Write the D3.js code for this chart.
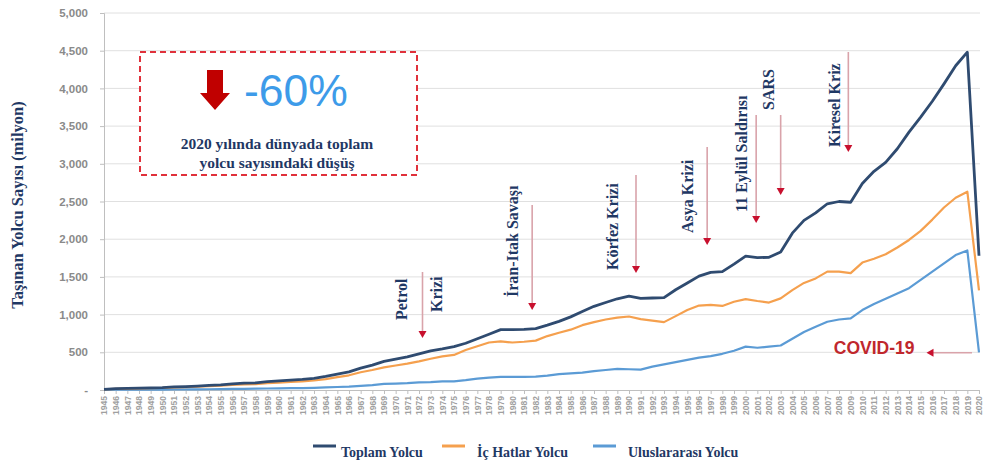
<!DOCTYPE html>
<html>
<head>
<meta charset="utf-8">
<script src="https://cdn.jsdelivr.net/npm/d3@7/dist/d3.min.js"></script>
<style>
  html, body { margin: 0; padding: 0; background: #fff; }
  svg { display: block; }
</style>
</head>
<body>
<svg id="chart" width="983" height="467"></svg>
<script>
// ---------------- DATA ----------------
const years = d3.range(1945, 2021);
const totalPassengers = [
  9, 18, 21, 24, 27, 31, 42, 46, 52, 60,
  68, 80, 90, 95, 110, 120, 130, 140, 155, 180,
  210, 240, 290, 330, 380, 410, 440, 480, 520, 545,
  575, 620, 680, 740, 800, 800, 805, 815, 860, 910,
  970, 1040, 1110, 1160, 1210, 1245, 1215, 1220, 1225, 1330,
  1420, 1510, 1560, 1570, 1670, 1775, 1755, 1760, 1830, 2080,
  2250, 2350, 2470, 2500, 2490, 2740, 2900, 3020, 3200, 3420,
  3620, 3830, 4060, 4300, 4480, 1780
];
const domesticPassengers = [
  7, 15, 18, 20, 23, 27, 35, 39, 44, 50,
  57, 66, 74, 78, 90, 98, 106, 114, 126, 145,
  170, 195, 235, 265, 300, 325, 350, 380, 415, 445,
  465, 530, 580, 630, 645, 630, 640, 655, 715, 760,
  800, 860, 900, 935, 960, 975, 940, 920, 900, 980,
  1060, 1120, 1130, 1115, 1170, 1205, 1180, 1160, 1215, 1325,
  1420, 1480, 1570, 1570, 1550, 1690, 1740, 1800, 1890, 1990,
  2110, 2260, 2420, 2550, 2630, 1320
];
const internationalPassengers = [
  2, 3, 3, 4, 4, 4, 7, 7, 8, 10,
  11, 14, 16, 17, 20, 22, 24, 26, 29, 35,
  40, 45, 55, 65, 80, 85, 90, 100, 105, 115,
  115, 130, 150, 165, 175, 175, 175, 178, 190, 210,
  220, 230, 250, 265, 280, 275, 270, 310, 340, 370,
  400, 430, 450, 480, 520, 575, 560, 575, 590, 680,
  770, 840, 905, 935, 950, 1060, 1140, 1210, 1280, 1350,
  1460, 1570, 1680, 1790, 1850, 500
];
const yTicks = [0, 500, 1000, 1500, 2000, 2500, 3000, 3500, 4000, 4500, 5000];
const seriesNames = ["Toplam Yolcu", "İç Hatlar Yolcu", "Uluslararası Yolcu"];
const yAxisTitle = "Taşınan Yolcu Sayısı (milyon)";
// events: label lines, year of arrow, arrow top value, arrow tip value, text bottom value
const eventLabels = [["Petrol", "Krizi"], ["İran-Itak Savaşı"], ["Körfez Krizi"], ["Asya Krizi"], ["11 Eylül Saldırısı"], ["SARS"], ["Kiresel Kriz"]];
const eventYears = [1972.3, 1981.7, 1990.6, 1996.7, 2000.9, 2003.0, 2008.8];
const eventArrowTop = [1565, 2454, 2851, 3223, 3647, 3647, 4483];
const eventArrowTip = [690, 1061, 1552, 1923, 2215, 2586, 3156];
const eventTextBottom = [[928, 1034], [1233], [1592], [2082], [2361], [3714], [3223]];
const covidLabel = "COVID-19";
const covidArrowFrom = 2019.4, covidArrowTo = 2015.5, covidArrowValue = 495;
const dropLabel = "-60%";
const dropText = ["2020 yılında dünyada toplam", "yolcu sayısındaki düşüş"];

// ---------------- LAYOUT ----------------
const svg = d3.select("#chart");
const serif = "'Liberation Serif', 'Times New Roman', serif";
const sans = "'Liberation Sans', Arial, sans-serif";
const navy = "#1f3864";

const x = d3.scaleLinear().domain([1945, 2020]).range([104, 979]);
const y = d3.scaleLinear().domain([0, 5000]).range([390, 13]);

// gridlines
svg.append("g").selectAll("line").data(yTicks.filter(d => d > 0)).join("line")
  .attr("x1", 104).attr("x2", 980)
  .attr("y1", d => y(d)).attr("y2", d => y(d))
  .attr("stroke", "#e0e0e0").attr("stroke-width", 1);

// y axis
const yAxis = d3.axisLeft(y).tickValues(yTicks).tickSize(4).tickPadding(12)
  .tickFormat(d => d === 0 ? "-" : d3.format(",")(d));
const gy = svg.append("g").attr("transform", "translate(104,0)").call(yAxis);
gy.select(".domain").attr("stroke", "#bfbfbf");
gy.selectAll(".tick line").attr("stroke", "#bfbfbf");
gy.selectAll(".tick text").attr("font-family", sans).attr("font-size", 11.5)
  .attr("fill", "#8a8a8a").attr("font-weight", "bold");

// x axis
const xAxis = d3.axisBottom(x).tickValues(years).tickSize(4).tickFormat(d3.format("d"));
const gx = svg.append("g").attr("transform", "translate(0,390)").call(xAxis);
gx.select(".domain").attr("stroke", "#bfbfbf");
gx.selectAll(".tick line").attr("stroke", "#bfbfbf");
gx.selectAll(".tick text")
  .attr("font-family", sans).attr("font-size", 8.5).attr("font-weight", "bold").attr("fill", "#a0a0a0")
  .attr("transform", "rotate(-90)")
  .attr("text-anchor", "end").attr("dy", "0.35em").attr("x", -6).attr("y", 0);

// lines
const colors = ["#2f4b70", "#f5a04e", "#5b9bd5"];
const widths = [2.8, 2.2, 2.2];
const seriesData = [totalPassengers, domesticPassengers, internationalPassengers];
const line = d3.line().x((d, i) => x(years[i])).y(d => y(d));
[2, 1, 0].forEach(k => {
  svg.append("path").datum(seriesData[k])
    .attr("d", line).attr("fill", "none")
    .attr("stroke", colors[k]).attr("stroke-width", widths[k])
    .attr("stroke-linejoin", "round");
});

// y axis title
svg.append("text")
  .attr("transform", "translate(17,205) rotate(-90)")
  .attr("text-anchor", "middle").attr("dominant-baseline", "central")
  .attr("font-family", serif).attr("font-weight", "bold").attr("font-size", 16.5)
  .attr("fill", navy).text(yAxisTitle);

// legend
const legendX = [313, 442, 593];
seriesNames.forEach((name, i) => {
  svg.append("line").attr("x1", legendX[i]).attr("x2", legendX[i] + 23)
    .attr("y1", 446).attr("y2", 446).attr("stroke", colors[i]).attr("stroke-width", 3);
  svg.append("text").attr("x", legendX[i] + 28 + (i === 0 ? 0 : 7)).attr("y", 457)
    .attr("font-family", serif).attr("font-weight", "bold").attr("font-size", 14)
    .attr("fill", navy).text(name);
});

// event annotations
const arrowColor = "#d9a3aa", headColor = "#c8102e";
const textOffsets = [[-21, 14], [-20], [-24], [-20], [-15], [-12], [-14]];
eventLabels.forEach((labels, i) => {
  const ax = x(eventYears[i]);
  const yTop = y(eventArrowTop[i]), yTip = y(eventArrowTip[i]);
  svg.append("line").attr("x1", ax).attr("x2", ax).attr("y1", yTop).attr("y2", yTip - 6)
    .attr("stroke", arrowColor).attr("stroke-width", 1.6);
  svg.append("path")
    .attr("d", `M${ax - 4},${yTip - 7} L${ax + 4},${yTip - 7} L${ax},${yTip} Z`)
    .attr("fill", headColor);
  labels.forEach((lab, j) => {
    const tx = ax + textOffsets[i][j];
    const ty = y(eventTextBottom[i][j]);
    svg.append("text")
      .attr("transform", `translate(${tx},${ty}) rotate(-90)`)
      .attr("text-anchor", "start").attr("dominant-baseline", "central")
      .attr("font-family", serif).attr("font-weight", "bold").attr("font-size", 16)
      .attr("fill", navy).text(lab);
  });
});

// COVID annotation
const cx1 = x(covidArrowFrom), cx2 = x(covidArrowTo), cy = y(covidArrowValue);
svg.append("line").attr("x1", cx1).attr("x2", cx2 + 6).attr("y1", cy).attr("y2", cy)
  .attr("stroke", arrowColor).attr("stroke-width", 1.6);
svg.append("path").attr("d", `M${cx2 + 7},${cy - 4} L${cx2 + 7},${cy + 4} L${cx2},${cy} Z`).attr("fill", headColor);
svg.append("text").attr("x", cx2 - 12).attr("y", cy + 1).attr("text-anchor", "end")
  .attr("font-family", sans).attr("font-weight", "bold").attr("font-size", 17.5)
  .attr("fill", "#c0272d").text(covidLabel);

// -60% box
svg.append("rect").attr("x", 140).attr("y", 52).attr("width", 277).attr("height", 123)
  .attr("fill", "#fff").attr("stroke", "#e0313b").attr("stroke-width", 2)
  .attr("stroke-dasharray", "6,4");
svg.append("path")
  .attr("d", "M207,70 L223,70 L223,93 L230,93 L215,110 L200,93 L207,93 Z")
  .attr("fill", "#c00000");
svg.append("text").attr("x", 244).attr("y", 106)
  .attr("font-family", sans).attr("font-size", 44.5).attr("fill", "#3d9be9").text(dropLabel);
dropText.forEach((t, i) => {
  svg.append("text").attr("x", 277).attr("y", 149 + i * 19).attr("text-anchor", "middle")
    .attr("font-family", serif).attr("font-weight", "bold").attr("font-size", 15.5)
    .attr("fill", navy).text(t);
});
</script>
</body>
</html>
